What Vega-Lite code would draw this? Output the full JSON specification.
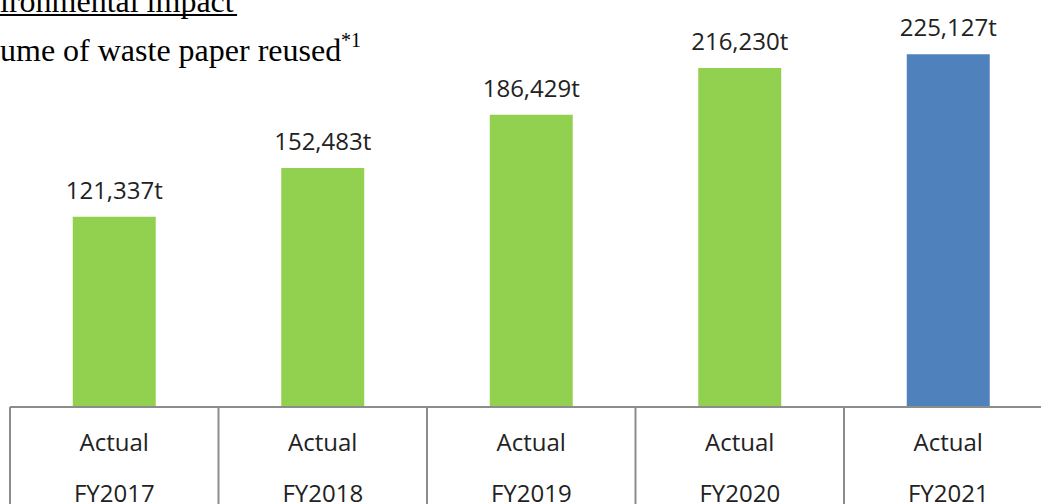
{
  "$schema": "https://vega.github.io/schema/vega-lite/v6.json",
  "width": 1041,
  "height": 504,
  "padding": 0,
  "autosize": {"type": "none"},
  "background": "white",
  "config": {"view": {"stroke": null}},
  "datasets": {
    "main": [
      {"fy": "FY2017", "status": "Actual", "value": 121337, "label": "121,337t"},
      {"fy": "FY2018", "status": "Actual", "value": 152483, "label": "152,483t"},
      {"fy": "FY2019", "status": "Actual", "value": 186429, "label": "186,429t"},
      {"fy": "FY2020", "status": "Actual", "value": 216230, "label": "216,230t"},
      {"fy": "FY2021", "status": "Actual", "value": 225127, "label": "225,127t"}
    ],
    "edges": [{"edge": 0}, {"edge": 1}, {"edge": 2}, {"edge": 3}, {"edge": 4}, {"edge": 5}]
  },
  "resolve": {"scale": {"x": "independent"}},
  "layer": [
    {
      "data": {"name": "main"},
      "encoding": {
        "x": {
          "field": "fy",
          "type": "nominal",
          "axis": null,
          "scale": {
            "domain": ["FY2017", "FY2018", "FY2019", "FY2020", "FY2021"],
            "range": [10, 1052.5],
            "paddingInner": 0.602,
            "paddingOuter": 0.301
          }
        }
      },
      "layer": [
        {
          "mark": {"type": "bar"},
          "encoding": {
            "y": {"field": "value", "type": "quantitative", "axis": null, "scale": {"domain": [-61900, 259700], "nice": false, "zero": false}},
            "color": {
              "condition": {"test": "datum.fy === 'FY2021'", "value": "#4F81BD"},
              "value": "#92D050"
            }
          }
        },
        {
          "mark": {"type": "text", "font": "Open Sans", "fontSize": 24, "color": "#222222", "baseline": "alphabetic", "dy": -18},
          "encoding": {
            "y": {"field": "value", "type": "quantitative", "axis": null, "scale": {"domain": [-61900, 259700], "nice": false, "zero": false}},
            "text": {"field": "label"}
          }
        },
        {
          "mark": {"type": "text", "font": "Open Sans", "fontSize": 24, "color": "#222222", "baseline": "alphabetic", "dy": 44},
          "encoding": {
            "y": {"datum": 0, "type": "quantitative", "axis": null, "scale": {"domain": [-61900, 259700], "nice": false, "zero": false}},
            "text": {"field": "status"}
          }
        },
        {
          "mark": {"type": "text", "font": "Open Sans", "fontSize": 24, "color": "#222222", "baseline": "alphabetic", "dy": 95},
          "encoding": {
            "y": {"datum": 0, "type": "quantitative", "axis": null, "scale": {"domain": [-61900, 259700], "nice": false, "zero": false}},
            "text": {"field": "fy"}
          }
        }
      ]
    },
    {
      "data": {"name": "edges"},
      "mark": {"type": "rule", "color": "#8c8c8c", "strokeWidth": 2},
      "encoding": {
        "x": {"field": "edge", "type": "quantitative", "axis": null, "scale": {"domain": [0, 5], "range": [10, 1052.5], "nice": false, "zero": false}},
        "y": {"datum": 0, "type": "quantitative", "axis": null, "scale": {"domain": [-61900, 259700], "nice": false, "zero": false}},
        "y2": {"datum": -61900}
      }
    },
    {
      "data": {"values": [{}]},
      "mark": {"type": "rule", "color": "#8c8c8c", "strokeWidth": 2},
      "encoding": {
        "x": {"datum": 0, "type": "quantitative", "axis": null, "scale": {"domain": [0, 5], "range": [10, 1052.5], "nice": false, "zero": false}},
        "x2": {"datum": 5},
        "y": {"datum": 0, "type": "quantitative", "axis": null, "scale": {"domain": [-61900, 259700], "nice": false, "zero": false}}
      }
    },
    {
      "data": {"values": [{"text": "ironmental impact"}]},
      "mark": {"type": "text", "font": "Liberation Serif", "fontSize": 32, "color": "#000000", "align": "left", "baseline": "alphabetic"},
      "encoding": {
        "x": {"datum": -0.048, "type": "quantitative", "axis": null, "scale": {"domain": [0, 5], "range": [10, 1052.5], "nice": false, "zero": false}},
        "y": {"datum": 252043, "type": "quantitative", "axis": null, "scale": {"domain": [-61900, 259700], "nice": false, "zero": false}},
        "text": {"field": "text"}
      }
    },
    {
      "data": {"values": [{}]},
      "mark": {"type": "rule", "color": "#000000", "strokeWidth": 2},
      "encoding": {
        "x": {"datum": -0.048, "type": "quantitative", "axis": null, "scale": {"domain": [0, 5], "range": [10, 1052.5], "nice": false, "zero": false}},
        "x2": {"datum": 1.089},
        "y": {"datum": 250129, "type": "quantitative", "axis": null, "scale": {"domain": [-61900, 259700], "nice": false, "zero": false}}
      }
    },
    {
      "data": {"values": [{"text": "ume of waste paper reused"}]},
      "mark": {"type": "text", "font": "Liberation Serif", "fontSize": 32, "color": "#000000", "align": "left", "baseline": "alphabetic"},
      "encoding": {
        "x": {"datum": -0.048, "type": "quantitative", "axis": null, "scale": {"domain": [0, 5], "range": [10, 1052.5], "nice": false, "zero": false}},
        "y": {"datum": 220776, "type": "quantitative", "axis": null, "scale": {"domain": [-61900, 259700], "nice": false, "zero": false}},
        "text": {"field": "text"}
      }
    },
    {
      "data": {"values": [{"text": "*1"}]},
      "mark": {"type": "text", "font": "Liberation Serif", "fontSize": 20, "color": "#000000", "align": "left", "baseline": "alphabetic"},
      "encoding": {
        "x": {"datum": 1.5875, "type": "quantitative", "axis": null, "scale": {"domain": [0, 5], "range": [10, 1052.5], "nice": false, "zero": false}},
        "y": {"datum": 229709, "type": "quantitative", "axis": null, "scale": {"domain": [-61900, 259700], "nice": false, "zero": false}},
        "text": {"field": "text"}
      }
    }
  ]
}
